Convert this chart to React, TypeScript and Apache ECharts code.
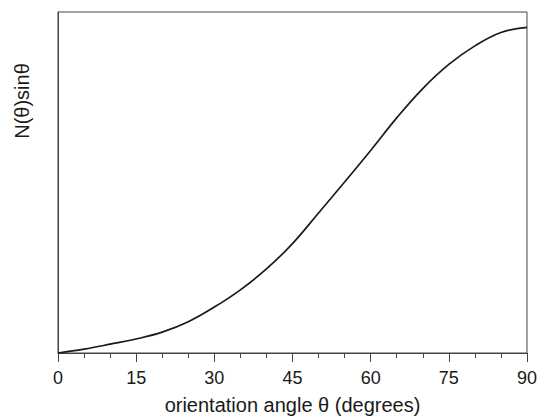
import React, { useEffect, useRef } from "react";
import * as echarts from "echarts";

const angles = [0, 5, 10, 15, 20, 25, 30, 35, 40, 45, 50, 55, 60, 65, 70, 75, 80, 85, 90];
const values = [0, 0.012, 0.027, 0.043, 0.064, 0.096, 0.141, 0.194, 0.258, 0.336, 0.43, 0.525, 0.622, 0.722, 0.812, 0.886, 0.943, 0.984, 1.0];
const xTicks = [0, 15, 30, 45, 60, 75, 90];
const xTitle = "orientation angle θ (degrees)";
const yTitle = "N(θ)sinθ";

const FONT = "'Liberation Sans', Arial, Helvetica, sans-serif";

export default function App() {
  const ref = useRef<HTMLDivElement>(null);
  useEffect(() => {
    if (!ref.current) return;
    const chart = echarts.init(ref.current, undefined, { renderer: "svg" });
    chart.setOption({
      animation: false,
      backgroundColor: "#ffffff",
      grid: {
        left: 58,
        right: 13,
        top: 12,
        bottom: 67,
        show: true,
        borderColor: "#444",
        borderWidth: 1,
      },
      xAxis: {
        type: "value",
        min: xTicks[0],
        max: xTicks[xTicks.length - 1],
        interval: 15,
        name: xTitle,
        nameLocation: "middle",
        nameGap: 42,
        nameTextStyle: { fontFamily: FONT, fontSize: 20, color: "#1a1a1a" },
        axisLine: { show: true, lineStyle: { color: "#444", width: 1 } },
        axisTick: { show: true, inside: false, length: 9, lineStyle: { color: "#444" } },
        minorTick: { show: true, splitNumber: 3, length: 5, lineStyle: { color: "#444" } },
        axisLabel: { fontFamily: FONT, fontSize: 18, color: "#1a1a1a", margin: 16 },
        splitLine: { show: false },
      },
      yAxis: {
        type: "value",
        min: 0,
        max: 1.047,
        axisLine: { show: true, onZero: false, lineStyle: { color: "#444", width: 1 } },
        axisTick: { show: false },
        axisLabel: { show: false },
        splitLine: { show: false },
      },
      graphic: [
        {
          type: "text",
          x: 22,
          y: 101,
          rotation: Math.PI / 2,
          style: {
            text: yTitle,
            fontFamily: FONT,
            fontSize: 20,
            fill: "#1a1a1a",
            align: "center",
            verticalAlign: "middle",
          },
        },
      ],
      series: [
        {
          type: "line",
          data: angles.map((a, i) => [a, values[i]]),
          smooth: 0.4,
          showSymbol: false,
          lineStyle: { color: "#1a1a1a", width: 1.7 },
        },
      ],
    });
    return () => chart.dispose();
  }, []);
  return <div ref={ref} style={{ width: 540, height: 420, position: "absolute", left: 0, top: 0 }} />;
}
